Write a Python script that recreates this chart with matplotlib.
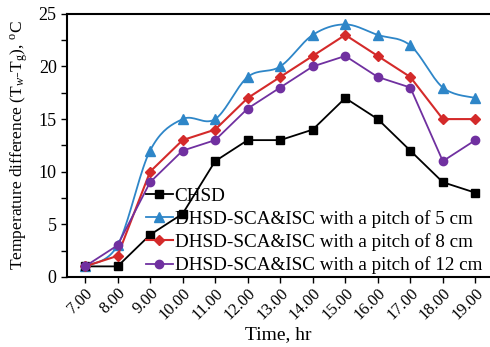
import numpy as np
import matplotlib
matplotlib.use("Agg")
import matplotlib.pyplot as plt
from matplotlib.ticker import MultipleLocator

plt.rcParams['font.family'] = ['Liberation Serif', 'DejaVu Serif']
plt.rcParams['mathtext.fontset'] = 'custom'
plt.rcParams['mathtext.rm'] = 'Liberation Serif'
plt.rcParams['mathtext.it'] = 'Liberation Serif:italic'

times = ['7.00', '8.00', '9.00', '10.00', '11.00', '12.00', '13.00',
         '14.00', '15.00', '16.00', '17.00', '18.00', '19.00']
chsd = [1, 1, 4, 6, 11, 13, 13, 14, 17, 15, 12, 9, 8]
pitch5 = [1, 3, 12, 15, 15, 19, 20, 23, 24, 23, 22, 18, 17]
pitch8 = [1, 2, 10, 13, 14, 17, 19, 21, 23, 21, 19, 15, 15]
pitch12 = [1, 3, 9, 12, 13, 16, 18, 20, 21, 19, 18, 11, 13]

labels = ['CHSD',
          'DHSD-SCA&ISC with a pitch of 5 cm',
          'DHSD-SCA&ISC with a pitch of 8 cm',
          'DHSD-SCA&ISC with a pitch of 12 cm']


def smooth(x, y, n=20):
    # Excel-like Bezier smoothing through the points
    x = np.asarray(x, float)
    y = np.asarray(y, float)
    px = np.concatenate([[x[0]], x, [x[-1]]])
    py = np.concatenate([[y[0]], y, [y[-1]]])
    ox, oy = [], []
    t = np.linspace(0, 1, n)
    for i in range(1, len(px) - 2):
        p0 = np.array([px[i], py[i]])
        p3 = np.array([px[i + 1], py[i + 1]])
        p1 = p0 + (np.array([px[i + 1], py[i + 1]]) - np.array([px[i - 1], py[i - 1]])) / 6
        p2 = p3 - (np.array([px[i + 2], py[i + 2]]) - np.array([px[i], py[i]])) / 6
        b = ((1 - t) ** 3)[:, None] * p0 + (3 * (1 - t) ** 2 * t)[:, None] * p1 + \
            (3 * (1 - t) * t ** 2)[:, None] * p2 + (t ** 3)[:, None] * p3
        ox.extend(b[:, 0])
        oy.extend(b[:, 1])
    return np.array(ox), np.array(oy)


fig = plt.figure(figsize=(4.9, 3.47), dpi=100)
ax = fig.add_axes([0.137, 0.202, 0.863, 0.758])

x = np.arange(len(times))
c_blk, c_blu, c_red, c_pur = '#000000', '#2E86C8', '#D42A2A', '#7030A0'

ax.plot(x, chsd, color=c_blk, lw=1.3, marker='s', ms=6, label=labels[0], zorder=3)
sx, sy = smooth(x, pitch5)
ax.plot(sx, sy, color=c_blu, lw=1.3, zorder=2)
ax.plot(x, pitch5, color=c_blu, lw=0, marker='^', ms=7, zorder=2)
ax.plot([], [], color=c_blu, lw=1.3, marker='^', ms=7, label=labels[1])
ax.plot(x, pitch8, color=c_red, lw=1.5, marker='D', ms=5, label=labels[2], zorder=3)
ax.plot(x, pitch12, color=c_pur, lw=1.3, marker='o', ms=6, label=labels[3], zorder=3)

ax.set_xlim(-0.55, 12.45)
ax.set_ylim(0, 25)
ax.set_xticks(x)
ax.set_xticklabels(times, rotation=45, ha='right', rotation_mode='anchor', fontsize=12)
ax.yaxis.set_major_locator(MultipleLocator(5))
ax.yaxis.set_minor_locator(MultipleLocator(2.5))
ax.tick_params(axis='y', which='both', direction='out', length=4, width=1, labelsize=13)
ax.tick_params(axis='x', direction='out', length=4, width=1, pad=2)
for s in ['left', 'bottom', 'top']:
    ax.spines[s].set_linewidth(1.5)
ax.spines['right'].set_visible(False)

ax.set_xlabel('Time, hr', fontsize=14, labelpad=2)
ax.set_ylabel(r'Temperature difference (T$_{\mathit{w}}$-T$_{\mathrm{g}}$), $^{\mathrm{o}}$C',
              fontsize=12.5, labelpad=6)

leg = ax.legend(loc='lower left', bbox_to_anchor=(0.186, 0.01), frameon=False,
                fontsize=13.8, handlelength=1.4, handletextpad=0.1,
                labelspacing=0.28, borderaxespad=0.0, borderpad=0.0)

fig.savefig('out.png', dpi=100)
